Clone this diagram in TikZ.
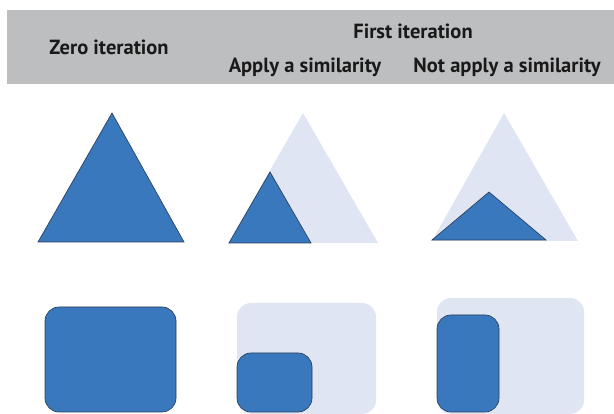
\documentclass[tikz,border=0pt]{standalone}
\usepackage{fontspec}
\setmainfont{PT Sans}
\usepackage{tikz}

\definecolor{headgray}{RGB}{189,190,192}
\definecolor{figblue}{RGB}{58,120,189}
\definecolor{figedge}{RGB}{40,62,90}
\definecolor{ghost}{RGB}{223,229,242}

\tikzset{
  head/.style={font=\fontsize{20.5}{23}\selectfont\bfseries,text=black!90,inner sep=0pt},
  fig/.style={fill=figblue,draw=figedge,line width=0.65pt,line join=miter},
  ghostfig/.style={fill=ghost,draw=none},
  rnd/.style={rounded corners=14pt},
}

\begin{document}
\begin{tikzpicture}[x=1pt,y=-1pt]
	\useasboundingbox (0,0) rectangle (614,414);
	%% header
	\fill [headgray] (7,10) rectangle (614,84);
	\node (zero) at (109,47) [head] {Zero iteration};
	\node (first) at (413,31) [head] {First iteration};
	\node (apply) at (305,67) [head] {Apply a similarity};
	\node (noapply) at (507,67) [head] {Not apply a similarity};

	%% triangles
	\draw [fig] (38,242) -- (112,113) -- (184,242) -- cycle;

	\fill [ghostfig] (228,243) -- (303,113) -- (378,243) -- cycle;
	\draw [fig] (229,243) -- (270,172) -- (311,243) -- cycle;

	\fill [ghostfig] (432,241) -- (504,113) -- (578,241) -- cycle;
	\draw [fig] (432,240) -- (489,192) -- (546,240) -- cycle;

	%% rounded squares
	\draw [fig,rnd] (45,307) rectangle (176,412);

	\fill [ghostfig,rnd] (237,303) rectangle (376,414);
	\draw [fig,rnd] (237,353) rectangle (312,412);

	\fill [ghostfig,rnd] (437,298) rectangle (584,414);
	\draw [fig,rnd] (437,315) rectangle (499,412);
	%
\end{tikzpicture}
\end{document}
